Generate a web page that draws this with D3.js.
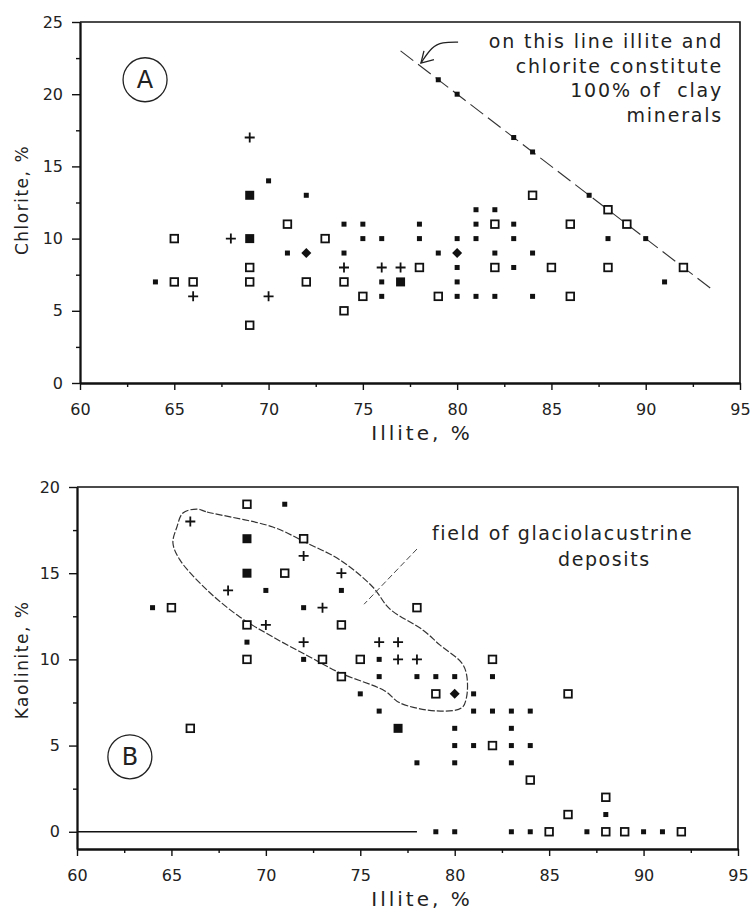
<!DOCTYPE html>
<html><head><meta charset="utf-8">
<script src="https://cdn.jsdelivr.net/npm/d3@7/dist/d3.min.js"></script>
<style>
body{margin:0;background:#fff;}
svg{display:block;}
text{font-family:"DejaVu Sans",sans-serif;fill:#222;}
</style></head>
<body>
<svg id="chart" width="750" height="913"></svg>
<script>
// ---------- DATA ----------
const xTicks = [60,65,70,75,80,85,90,95];
const xMinor = [62.5,67.5,72.5,77.5,82.5,87.5,92.5];
const yTicksA = [0,5,10,15,20,25];
const yMinorA = [2.5,7.5,12.5,17.5,22.5];
const yTicksB = [0,5,10,15,20];
const yMinorB = [2.5,7.5,12.5,17.5];

// Panel A (illite %, chlorite %)
const aSmall = [[64,7],[70,14],[72,13],[79,21],[80,20],[83,17],[84,16],[87,13],[81,12],[82,12],
  [74,11],[75,11],[78,11],[81,11],[83,11],[75,10],[76,10],[78,10],[80,10],[81,10],[83,10],[88,10],[90,10],
  [71,9],[74,9],[79,9],[82,9],[84,9],[80,8],[83,8],[76,7],[80,7],[91,7],[76,6],[80,6],[81,6],[82,6],[84,6]];
const aOpen = [[84,13],[88,12],[71,11],[82,11],[86,11],[89,11],[65,10],[73,10],[69,8],[78,8],[82,8],[85,8],
  [88,8],[92,8],[65,7],[66,7],[69,7],[72,7],[74,7],[75,6],[79,6],[86,6],[74,5],[69,4]];
const aPlus = [[69,17],[68,10],[74,8],[76,8],[77,8],[66,6],[70,6]];
const aBig = [[69,13],[69,10],[77,7]];
const aDiamond = [[72,9],[80,9]];
const aLine = [[77,23],[93.5,6.5]];               // illite + chlorite = 100 %
const aArrow = [[80.05,23.6],[79.2,23.6],[78.67,23.3],[78.08,22.16]];
const aArrowHead = [[78.24,23.0],[78.08,22.16],[78.77,22.4]];
const aNote = ["on this line illite and","chlorite constitute","100% of  clay","minerals"];

// Panel B (illite %, kaolinite %)
const bSmall = [[71,19],[70,14],[74,14],[64,13],[72,13],[69,11],[72,10],[76,10],[76,9],[78,9],[79,9],[80,9],[82,9],
  [75,8],[81,8],[76,7],[81,7],[82,7],[83,7],[84,7],[80,6],[83,6],[80,5],[81,5],[83,5],[84,5],[78,4],[80,4],[83,4],
  [88,1],[79,0],[80,0],[83,0],[84,0],[87,0],[90,0],[91,0]];
const bOpen = [[69,19],[72,17],[71,15],[65,13],[78,13],[69,12],[74,12],[69,10],[73,10],[75,10],[82,10],[74,9],
  [79,8],[86,8],[66,6],[82,5],[84,3],[88,2],[86,1],[85,0],[88,0],[89,0],[92,0]];
const bPlus = [[66,18],[72,16],[74,15],[68,14],[73,13],[70,12],[72,11],[76,11],[77,11],[77,10],[78,10]];
const bBig = [[69,17],[69,15],[77,6]];
const bDiamond = [[80,8]];
const bZeroLine = [[60,0],[78,0]];
const bField = [[66.35,18.72],[66.88,18.55],[70.37,17.68],[72.17,16.75],[73.92,15.77],[75.66,14.2],[76.56,12.93],
  [78.31,11.71],[79.21,10.84],[80.37,9.8],[80.63,9.1],[80.63,7.83],[80.37,7.19],[79.05,7.01],[77.09,7.48],
  [76.3,8.17],[73.92,9.22],[72.33,10.14],[70.37,11.3],[68.62,12.46],[66.88,14.03],[65.45,15.77],[65.08,16.75],
  [65.29,17.68],[65.61,18.49]];
const bPointer = [[78.0,16.4],[75.2,13.2]];
const bNote = ["field of glaciolacustrine","deposits"];

// ---------- DRAW ----------
const svg = d3.select("#chart");

function panel(opt){
  const g = svg.append("g");
  const x = d3.scaleLinear().domain([60,95]).range(opt.xr);
  const y = d3.scaleLinear().domain(opt.yd).range(opt.yr);
  const [x0,x1] = opt.xr, [yb,yt] = opt.yr;

  // frame top & right
  g.append("path").attr("d",`M${x0},${yt}H${x1}V${yb}`).attr("fill","none").attr("stroke","#111").attr("stroke-width",1.6);

  // x axis
  const xa = g.append("g").attr("transform",`translate(0,${yb})`)
    .call(d3.axisBottom(x).tickValues(xTicks).tickSize(7).tickSizeOuter(0).tickPadding(14).tickFormat(d3.format("d")));
  g.append("g").attr("transform",`translate(0,${yb})`)
    .call(d3.axisBottom(x).tickValues(xMinor).tickSize(4).tickSizeOuter(0).tickFormat(""));
  // y axis
  g.append("g").attr("transform",`translate(${x0},0)`)
    .call(d3.axisLeft(y).tickValues(opt.yTicks).tickSize(8).tickSizeOuter(0).tickPadding(9).tickFormat(d3.format("d")));
  g.append("g").attr("transform",`translate(${x0},0)`)
    .call(d3.axisLeft(y).tickValues(opt.yMinor).tickSize(4).tickSizeOuter(0).tickFormat(""));
  g.selectAll(".domain").attr("stroke","#111").attr("stroke-width",1.8);
  g.selectAll(".tick line").attr("stroke","#111").attr("stroke-width",1.4);
  g.selectAll(".tick text").attr("font-size",16).attr("fill","#333").attr("font-family","DejaVu Sans");

  // axis titles
  g.append("text").attr("x",422).attr("y",yb+57).attr("text-anchor","middle")
    .attr("font-size",20).attr("letter-spacing",3).text("Illite, %");
  g.append("text").attr("transform",`translate(${opt.ytx},${opt.yty}) rotate(-90)`).attr("text-anchor","middle")
    .attr("font-size",17).attr("letter-spacing",1.5).attr("fill","#444").text(opt.ytitle);

  // markers
  const P = d => `translate(${x(d[0])},${y(d[1])})`;
  g.selectAll(null).data(opt.small).join("rect").attr("transform",P)
    .attr("x",-2.5).attr("y",-2.5).attr("width",5).attr("height",5).attr("fill","#111");
  g.selectAll(null).data(opt.big).join("rect").attr("transform",P)
    .attr("x",-4.5).attr("y",-4.5).attr("width",9).attr("height",9).attr("fill","#111");
  g.selectAll(null).data(opt.open).join("rect").attr("transform",P)
    .attr("x",-3.8).attr("y",-3.8).attr("width",7.6).attr("height",7.6)
    .attr("fill","#fff").attr("stroke","#111").attr("stroke-width",1.8);
  g.selectAll(null).data(opt.plus).join("path").attr("transform",P)
    .attr("d","M-5,0H5M0,-5V5").attr("stroke","#111").attr("stroke-width",1.8);
  g.selectAll(null).data(opt.diamond).join("path").attr("transform",P)
    .attr("d","M0,-5L5,0L0,5L-5,0Z").attr("fill","#111");

  // circled panel letter
  g.append("circle").attr("cx",x(opt.letterPos[0])).attr("cy",y(opt.letterPos[1])).attr("r",22)
    .attr("fill","none").attr("stroke","#222").attr("stroke-width",1.3);
  g.append("text").attr("x",x(opt.letterPos[0])).attr("y",y(opt.letterPos[1])+8).attr("text-anchor","middle")
    .attr("font-family","Liberation Serif").attr("font-size",24).text(opt.letter);
  return {g,x,y};
}

// Panel A
const A = panel({xr:[80,740], yd:[0,25], yr:[383,22], yTicks:yTicksA, yMinor:yMinorA,
  small:aSmall, open:aOpen, plus:aPlus, big:aBig, diamond:aDiamond,
  ytitle:"Chlorite, %", ytx:28, yty:200, letter:"A", letterPos:[63.45,21.0]});
{
  const {g,x,y} = A;
  const ln = d3.line().x(d=>x(d[0])).y(d=>y(d[1]));
  g.insert("path",":first-child").attr("d",ln(aLine)).attr("stroke","#333").attr("stroke-width",1.1)
    .attr("stroke-dasharray","16,6").attr("fill","none");
  g.append("path").attr("d",ln.curve(d3.curveBasis)(aArrow)).attr("stroke","#222").attr("stroke-width",1.3).attr("fill","none");
  g.append("path").attr("d",d3.line().x(d=>x(d[0])).y(d=>y(d[1]))(aArrowHead)).attr("stroke","#222").attr("stroke-width",1.3).attr("fill","none");
  g.selectAll(null).data(aNote).join("text").attr("x",723).attr("y",(d,i)=>48+i*24.5)
    .attr("text-anchor","end").attr("font-size",19).attr("letter-spacing",1.8).attr("xml:space","preserve").text(d=>d);
}

// Panel B
const B = panel({xr:[77,738], yd:[-1,20], yr:[849,487], yTicks:yTicksB, yMinor:yMinorB,
  small:bSmall, open:bOpen, plus:bPlus, big:bBig, diamond:bDiamond,
  ytitle:"Kaolinite, %", ytx:28, yty:660, letter:"B", letterPos:[62.8,4.35]});
{
  const {g,x,y} = B;
  const ln = d3.line().x(d=>x(d[0])).y(d=>y(d[1]));
  g.insert("path",":first-child").attr("d",ln(bZeroLine)).attr("stroke","#111").attr("stroke-width",1.6).attr("fill","none");
  g.insert("path",":first-child").attr("d",ln.curve(d3.curveCatmullRomClosed)(bField))
    .attr("stroke","#333").attr("stroke-width",1.2).attr("stroke-dasharray","7,2").attr("fill","none");
  g.append("path").attr("d",d3.line().x(d=>x(d[0])).y(d=>y(d[1]))(bPointer))
    .attr("stroke","#444").attr("stroke-width",1).attr("stroke-dasharray","6,3").attr("fill","none");
  g.append("text").attr("x",432).attr("y",540).attr("font-size",19).attr("letter-spacing",1.6).text(bNote[0]);
  g.append("text").attr("x",558).attr("y",566).attr("font-size",19).attr("letter-spacing",1.6).text(bNote[1]);
}
</script>
</body></html>
